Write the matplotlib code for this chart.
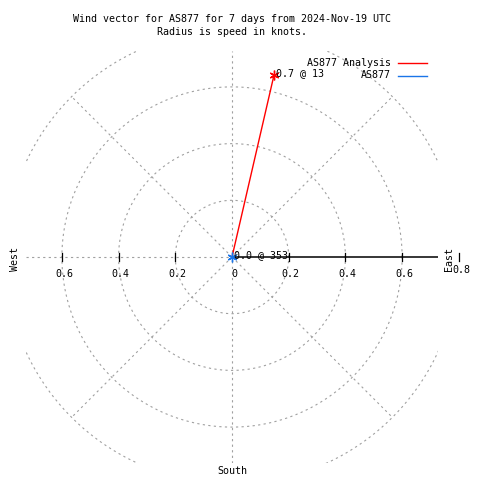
import numpy as np
import matplotlib
matplotlib.use("Agg")
import matplotlib.pyplot as plt
from matplotlib.lines import Line2D

# ---------------------------------------------------------------------
# data
# ---------------------------------------------------------------------
series_names = ["AS877 Analysis", "AS877"]
series_colors = ["#ff0000", "#1a75e8"]
speeds = [0.66, 0.0]          # knots
directions = [13, 353]        # degrees, clockwise from north

ring_values = [0.2, 0.4, 0.6, 0.8]
tick_values = [-0.6, -0.4, -0.2, 0.0, 0.2, 0.4, 0.6]
tick_labels = ["0.6", "0.4", "0.2", "0", "0.2", "0.4", "0.6"]
rmax = 0.7266

title = "Wind vector for AS877 for 7 days from 2024-Nov-19 UTC\nRadius is speed in knots."

FONT = "DejaVu Sans Mono"
FS = 7.2
GRID = "#a0a0a0"
PX = 1 / 283.5   # one pixel in data units

fig = plt.figure(figsize=(4.8, 4.8), dpi=100)
ax = fig.add_axes([26 / 480, 17 / 480, 412 / 480, 412 / 480])
ax.set_xlim(-rmax, rmax)
ax.set_ylim(-rmax, rmax)
ax.set_aspect("equal")
ax.axis("off")

grid_kw = dict(color=GRID, lw=0.8, ls=(0, (2, 3)), zorder=1)

# rings
t = np.linspace(0, 2 * np.pi, 400)
for r in ring_values:
    ax.plot(r * np.cos(t), r * np.sin(t), **grid_kw)

# diagonal spokes
for ang in [45, 135, 225, 315]:
    a = np.deg2rad(ang)
    ax.plot([0, 0.8 * np.cos(a)], [0, 0.8 * np.sin(a)], **grid_kw)

# vertical and west half of horizontal spoke
ax.plot([0, 0], [-rmax, rmax], **grid_kw)
ax.plot([-rmax, 0], [0, 0], **grid_kw)

# radial axis (east side)
ax.plot([0, rmax], [0, 0], color="black", lw=1.1, zorder=2, solid_capstyle="butt")

# ticks and labels along the horizontal axis
for v, lab in zip(tick_values, tick_labels):
    if v != 0:
        ax.plot([v, v], [-4 * PX, 4 * PX], color="black", lw=0.9, zorder=2)
    ax.text(v + 2 * PX, -17 * PX, lab, ha="center", va="center",
            fontsize=FS, family=FONT)
ax.plot([0.8, 0.8], [-4 * PX, 4 * PX], color="black", lw=0.9, clip_on=False)
ax.text(0.8 + 3 * PX, -13 * PX, "0.8", ha="center", va="center",
        fontsize=FS, family=FONT, clip_on=False)

# compass labels
ax.text(rmax + 11 * PX, -2 * PX, "East", rotation=90, ha="center", va="center",
        fontsize=FS, family=FONT)
ax.text(-rmax - 11 * PX, -2 * PX, "West", rotation=90, ha="center", va="center",
        fontsize=FS, family=FONT)
ax.text(0, -rmax - 8 * PX, "South", ha="center", va="center",
        fontsize=FS, family=FONT)

# wind vectors
star = (6, 2, 0)
for name, col, s, d in zip(series_names, series_colors, speeds, directions):
    a = np.deg2rad(d)
    x, y = s * np.sin(a), s * np.cos(a)
    ax.plot([0, x], [0, y], color=col, lw=1.0, zorder=3)
    ax.plot([x], [y], marker=star, color=col, ms=7, mew=1.0, zorder=4)
    ax.text(x + 2 * PX, y + 2 * PX, f"{s:.1f} @ {d}", ha="left", va="center",
            fontsize=FS, family=FONT, zorder=5)

# legend (gnuplot style: text right aligned, sample line to the right)
for i, (name, col) in enumerate(zip(series_names, series_colors)):
    ypix = 63 + 12.5 * i
    fig.text(391 / 480, 1 - ypix / 480, name, ha="right", va="center",
             fontsize=FS, family=FONT)
    fig.add_artist(Line2D([398 / 480, 427 / 480], [1 - ypix / 480, 1 - ypix / 480],
                          color=col, lw=1.0, transform=fig.transFigure))

fig.text(232 / 480, 1 - 25.5 / 480, title, ha="center", va="center",
         fontsize=FS, family=FONT, linespacing=1.35)

plt.savefig("out.png", dpi=100)
